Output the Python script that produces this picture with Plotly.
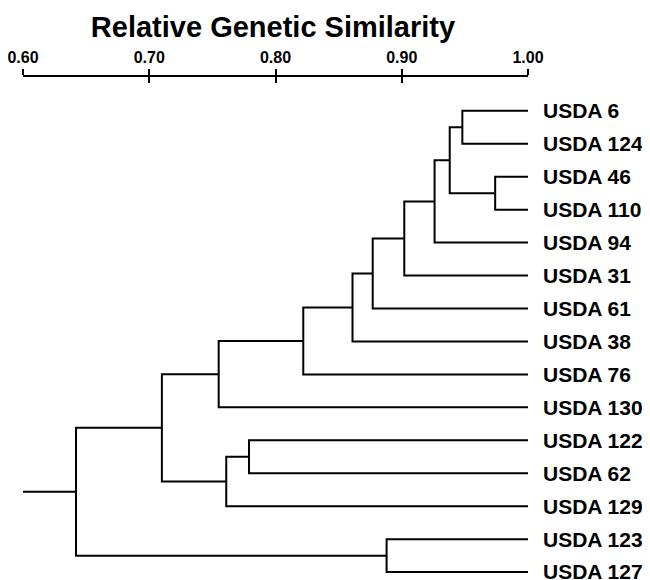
import plotly.graph_objects as go

# ---- data ----
leaf_labels = ["USDA 6", "USDA 124", "USDA 46", "USDA 110", "USDA 94", "USDA 31",
               "USDA 61", "USDA 38", "USDA 76", "USDA 130", "USDA 122", "USDA 62",
               "USDA 129", "USDA 123", "USDA 127"]
# merges: (left child, right child, similarity); children are leaf names or merge ids "N<k>"
merge_left = ["USDA 6", "USDA 46", "N0", "N2", "N3", "N4", "N5", "N6", "N7",
              "USDA 122", "N9", "N8", "USDA 123", "N11"]
merge_right = ["USDA 124", "USDA 110", "N1", "USDA 94", "USDA 31", "USDA 61", "USDA 38",
               "USDA 76", "USDA 130", "USDA 62", "USDA 129", "N10", "USDA 127", "N12"]
merge_sim = [0.948, 0.974, 0.938, 0.926, 0.902, 0.877, 0.861, 0.822, 0.755,
             0.779, 0.761, 0.710, 0.888, 0.642]
tick_vals = [0.60, 0.70, 0.80, 0.90, 1.00]
tick_text = ["0.60", "0.70", "0.80", "0.90", "1.00"]
axis_min = 0.60
leaf_sim = 1.00

# ---- build dendrogram segments ----
pos = {}
for i, lab in enumerate(leaf_labels):
    pos[lab] = (leaf_sim, i)

xs, ys = [], []
for k, (a, b, s) in enumerate(zip(merge_left, merge_right, merge_sim)):
    xa, ya = pos[a]
    xb, yb = pos[b]
    xs += [xa, s, s, xb, None]
    ys += [ya, ya, yb, yb, None]
    pos["N%d" % k] = (s, (ya + yb) / 2)

root_x, root_y = pos["N%d" % (len(merge_sim) - 1)]
xs += [root_x, axis_min, None]
ys += [root_y, root_y, None]

fig = go.Figure()
fig.add_trace(go.Scatter(x=xs, y=ys, mode="lines",
                         line=dict(color="black", width=2),
                         hoverinfo="skip", showlegend=False))

W, H = 650, 580
off = 8  # page body margin
x0px, x1px = 23.3 - off, 528.3 - off
top_px = 77 - off
first_leaf_px = 110.8 - off
leaf_step = 32.95
n = len(leaf_labels)
y_top = (top_px - first_leaf_px) / leaf_step
y_bot = (H - first_leaf_px) / leaf_step

fig.update_layout(
    width=W, height=H,
    margin=dict(l=x0px, r=W - x1px, t=top_px, b=0, pad=0, autoexpand=False),
    paper_bgcolor="white", plot_bgcolor="white",
    font=dict(family="Liberation Sans, Arial, sans-serif", color="black"),
    title=dict(text="<b>Relative Genetic Similarity</b>",
               font=dict(size=29, family="Liberation Sans, Arial, sans-serif", color="black"),
               x=(273 - off) / W, xanchor="center", xref="container",
               y=1 - (26.5 - off) / H, yanchor="middle", yref="container"),
    xaxis=dict(range=[axis_min, leaf_sim], side="top", anchor="y",
               showgrid=False, zeroline=False, automargin=False,
               showline=True, linecolor="black", linewidth=2,
               ticks="outside", ticklen=6, tickwidth=2, tickcolor="black",
               tickvals=tick_vals, ticktext=["<b>%s</b>" % t for t in tick_text],
               tickfont=dict(size=16, color="black"),
               ticklabeloverflow="allow",
               fixedrange=True),
    xaxis2=dict(range=[axis_min, leaf_sim], side="top", anchor="y",
                overlaying="x", matches="x", automargin=False,
                showgrid=False, zeroline=False, showline=False,
                ticks="inside", ticklen=6, tickwidth=2, tickcolor="black",
                tickvals=tick_vals, showticklabels=False),
    yaxis=dict(range=[y_bot, y_top], side="right", automargin=False,
               showgrid=False, zeroline=False, showline=False,
               ticks="", tickvals=list(range(n)),
               ticktext=["<b>%s</b>" % t for t in leaf_labels],
               tickfont=dict(size=21, color="black"),
               ticklabeloverflow="allow",
               ticklabelstandoff=14, fixedrange=True),
)
# invisible trace to activate xaxis2
fig.add_trace(go.Scatter(x=[axis_min], y=[0], xaxis="x2", mode="markers",
                         marker=dict(opacity=0), hoverinfo="skip", showlegend=False))

fig.write_html("out.html")
